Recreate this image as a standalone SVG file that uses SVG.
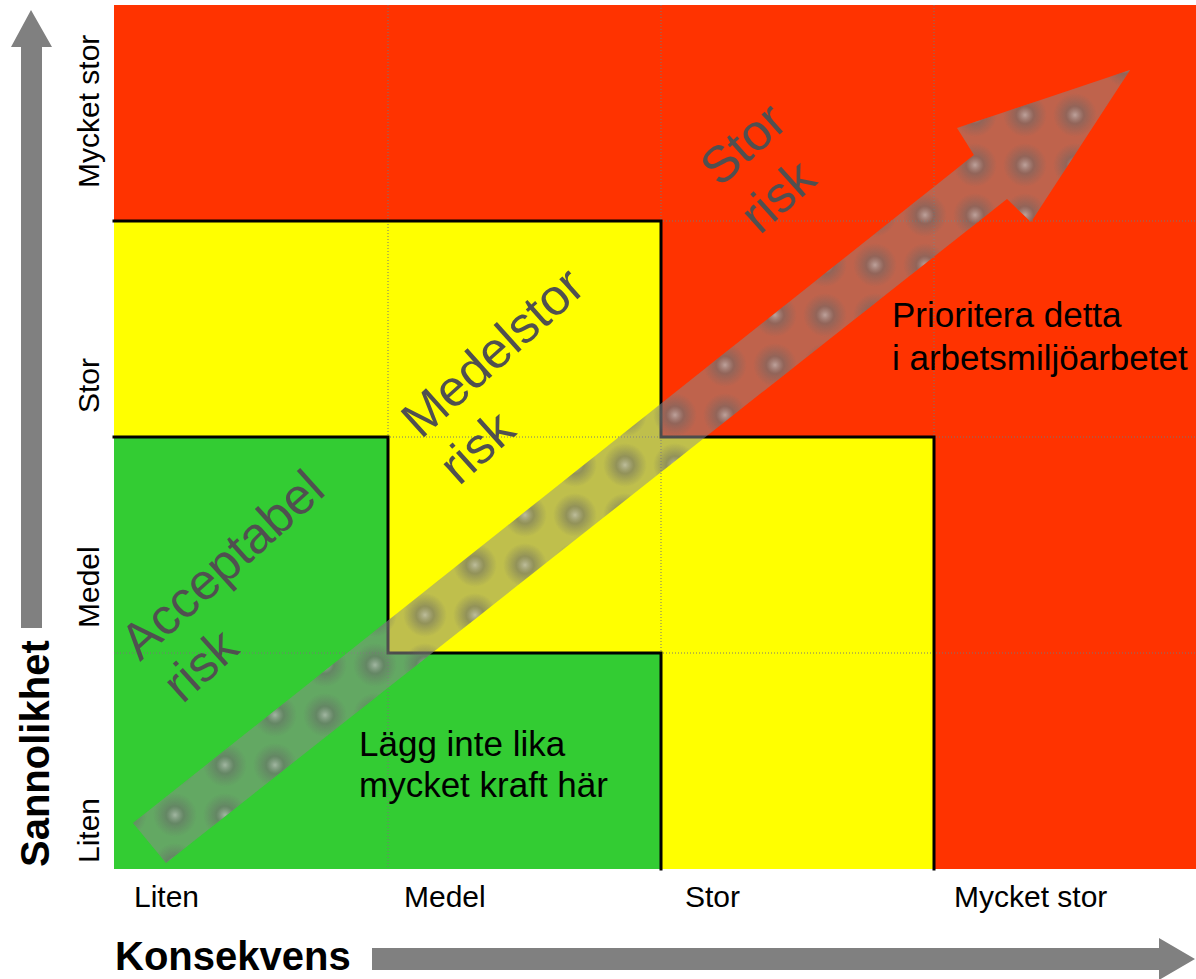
<svg xmlns="http://www.w3.org/2000/svg" width="1196" height="979" viewBox="0 0 1196 979">
<defs>
<style>
.red{fill:#FF3300}
.yel{fill:#FFFF00}
.grn{fill:#33CC33}
.grid{stroke:#777777;stroke-width:1;stroke-dasharray:1 2;fill:none}
.edge{stroke:#000000;stroke-width:3;fill:none;stroke-linecap:square}
.axis{font-family:"Liberation Sans",Arial,sans-serif;font-size:30px;fill:#000000}
.title{font-family:"Liberation Sans",Arial,sans-serif;font-size:40px;font-weight:bold;fill:#000000}
.note{font-family:"Liberation Sans",Arial,sans-serif;font-size:35px;fill:#000000}
.risk{font-family:"Liberation Sans",Arial,sans-serif;font-size:51px;fill:#505050}
.garrow{fill:#808080}
</style>
<radialGradient id="spot">
<stop offset="0" stop-color="#bdbdbd" stop-opacity="0.7"/>
<stop offset="0.4" stop-color="#666666" stop-opacity="0.5"/>
<stop offset="1" stop-color="#666666" stop-opacity="0"/>
</radialGradient>
<pattern id="spots" patternUnits="userSpaceOnUse" x="0" y="-10" width="50" height="50">
<circle cx="25" cy="25" r="22" fill="url(#spot)"/>
</pattern>
</defs>
<rect x="0" y="0" width="1196" height="979" fill="#ffffff"/>
<g id="zone-red"><rect class="red" x="114" y="5" width="1082" height="864"/></g>
<g id="zone-yellow"><polygon class="yel" points="114,221 661,221 661,437 934,437 934,869 114,869"/></g>
<g id="zone-green"><polygon class="grn" points="114,437 388,437 388,653 661,653 661,869 114,869"/></g>
<g id="grid">
<line class="grid" x1="388" y1="5" x2="388" y2="869"/>
<line class="grid" x1="661" y1="5" x2="661" y2="869"/>
<line class="grid" x1="934" y1="5" x2="934" y2="869"/>
<line class="grid" x1="114" y1="221" x2="1196" y2="221"/>
<line class="grid" x1="114" y1="437" x2="1196" y2="437"/>
<line class="grid" x1="114" y1="653" x2="1196" y2="653"/>
</g>
<g id="boundaries">
<path class="edge" d="M114,221 H661 V437 H934 V869"/>
<path class="edge" d="M114,437 H388 V653 H661 V869"/>
</g>
<g id="connectors">
<polygon id="axis-y-arrow" class="garrow" points="21,628 21,47 11,47 31,10 52,47 42,47 42,628"/>
<polygon id="axis-x-arrow" class="garrow" points="372,948 1159,948 1159,938 1195,959 1159,980 1159,970 372,970"/>
<g id="trend-arrow">
<polygon points="133,823 974,155 957,128 1130,70 1031,222 1007,199 166,863" fill="#8a8a8a" fill-opacity="0.55"/>
<polygon points="133,823 974,155 957,128 1130,70 1031,222 1007,199 166,863" fill="url(#spots)"/>
</g>
</g>
<g id="axis-titles">
<text class="title" transform="translate(49,867) rotate(-90)">Sannolikhet</text>
<text class="title" x="115" y="970">Konsekvens</text>
</g>
<g id="row-labels">
<text class="axis" transform="translate(99,188) rotate(-90)">Mycket stor</text>
<text class="axis" transform="translate(99,413) rotate(-90)">Stor</text>
<text class="axis" transform="translate(99,628) rotate(-90)">Medel</text>
<text class="axis" transform="translate(99,863) rotate(-90)">Liten</text>
</g>
<g id="col-labels">
<text class="axis" x="134" y="907">Liten</text>
<text class="axis" x="404" y="907">Medel</text>
<text class="axis" x="685" y="907">Stor</text>
<text class="axis" x="954" y="907">Mycket stor</text>
</g>
<g id="label-acceptabel" transform="translate(140,662) rotate(-42)">
<text class="risk" x="0" y="0">Acceptabel</text>
<text class="risk" x="3" y="60">risk</text>
</g>
<g id="label-medelstor" transform="translate(421,440) rotate(-42)">
<text class="risk" x="0" y="0">Medelstor</text>
<text class="risk" x="-3" y="60">risk</text>
</g>
<g id="label-stor" transform="translate(720,188) rotate(-42)">
<text class="risk" x="0" y="0">Stor</text>
<text class="risk" x="-2" y="62">risk</text>
</g>
<g id="note-green">
<text class="note" x="359" y="756">Lägg inte lika</text>
<text class="note" x="359" y="797">mycket kraft här</text>
</g>
<g id="note-red">
<text class="note" x="892" y="327">Prioritera detta</text>
<text class="note" x="892" y="370">i arbetsmiljöarbetet</text>
</g>
</svg>
